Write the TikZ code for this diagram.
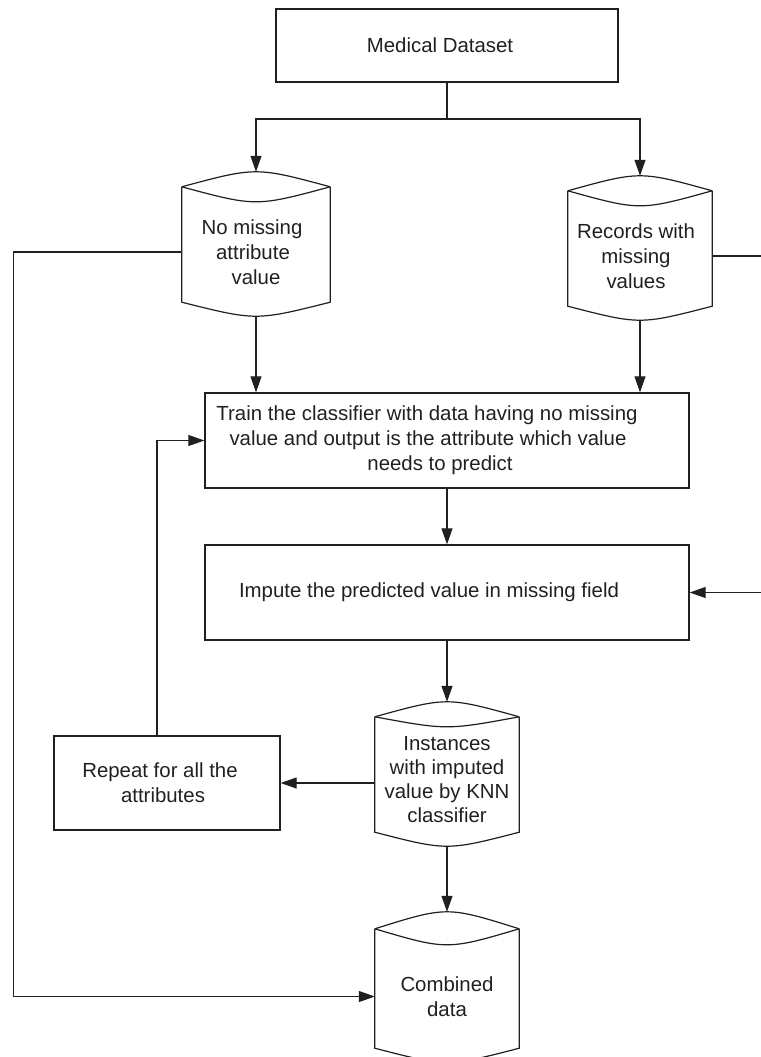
\documentclass[tikz,border=0pt]{standalone}
\usepackage{fontspec}
\setmainfont{Liberation Sans}
\usetikzlibrary{arrows.meta,calc}
\definecolor{ink}{RGB}{35,31,32}
\newcommand\padr[1]{\rule{#1}{0pt}}
\begin{document}
\begin{tikzpicture}[x=1pt,y=-1pt,
  every node/.style={text=ink,font=\fontsize{20.4}{25}\selectfont,align=center,inner sep=0pt},
  boxnode/.style={draw=ink,line width=1.3pt,rectangle},
  drumnode/.style={rectangle,draw=none},
  drumline/.style={draw=ink,line width=1.2pt},
  conn/.style={draw=ink,line width=1.1pt},
  arr/.style={conn,-{Triangle[length=16pt,width=11pt]}}]
\useasboundingbox (0,0) rectangle (760,1057);

% rectangles
\node[boxnode,minimum width=342pt,minimum height=73pt] (med) at (447,45.5) {Medical Dataset\padr{14pt}};
\node[boxnode,minimum width=484pt,minimum height=95pt] (train) at (447,440.5)
  {Train the classifier with data having no missing\padr{40pt}\\ value and output is the attribute which value\padr{38pt}\\ needs to predict\padr{14pt}};
\node[boxnode,minimum width=484pt,minimum height=95pt] (imp) at (447,592.5)
  {Impute the predicted value in missing field\padr{36pt}};
\node[boxnode,minimum width=226pt,minimum height=94pt] (rep) at (167,783)
  {Repeat for all the\padr{14pt}\\ attributes\padr{8pt}};

% drums (node body = from bottom of the top lens to the bottom of the sides)
\node[drumnode,minimum width=148pt,minimum height=100pt] (nomiss) at (256,252) {No missing\padr{8pt}\\ attribute\padr{6pt}\\ value};
\node[drumnode,minimum width=144pt,minimum height=100pt] (recs) at (640,256) {Records with\padr{8pt}\\ missing\padr{8pt}\\ values\padr{8pt}};
\node[drumnode,minimum width=144pt,minimum height=105pt,font=\fontsize{20.4}{24}\selectfont] (inst) at (447,779.5) {Instances\\ with imputed\\ value by KNN\\ classifier};
\node[drumnode,minimum width=144pt,minimum height=103pt] (comb) at (447,996.5) {Combined\\ data};

% a = depth of the lens below the top corners, b = rise of the top arc above the corners
\foreach \n/\a/\b in {nomiss/15/15,recs/15/15,inst/10/15,comb/16/17}{
  \coordinate (\n-tl) at ($(\n.north west)+(0,-\a)$);
  \coordinate (\n-tr) at ($(\n.north east)+(0,-\a)$);
  \coordinate (\n-top) at ($(\n.north)+(0,-\a-\b)$);
  \coordinate (\n-bot) at ($(\n.south)+(0,14)$);
  \draw[drumline] (\n-tl) .. controls ($(\n.north)+(0,-\a-4*\b/3)$) .. (\n-tr);
  \draw[drumline] (\n-tl) .. controls ($(\n.north)+(0,\a/3)$) .. (\n-tr);
  \draw[drumline] (\n-tl) -- (\n.south west) .. controls ($(\n.south)+(0,18.67)$) .. (\n.south east) -- (\n-tr);
}

% connectors
\coordinate (split) at (447,119);
\draw[conn] (med.south) -- (split);
\draw[arr] (split) -| (nomiss-top);
\draw[arr] (split) -| (recs-top);
\draw[arr] (nomiss-bot) -- (nomiss-bot |- train.north);
\draw[arr] (recs-bot) -- (recs-bot |- train.north);
\draw[arr] (train.south) -- (imp.north);
\draw[arr] (imp.south) -- (inst-top);
\draw[arr] (inst-bot) -- (comb-top);
\draw[arr] (inst.west |- rep.east) -- (rep.east);
\draw[arr] ([xshift=-10pt]rep.north) |- (train.west);
\draw[arr] (nomiss.west) -- ++(-168,0) |- (comb.west);
\draw[arr] (recs.east) -- ++(52,0) |- (imp.east);
\end{tikzpicture}
\end{document}
